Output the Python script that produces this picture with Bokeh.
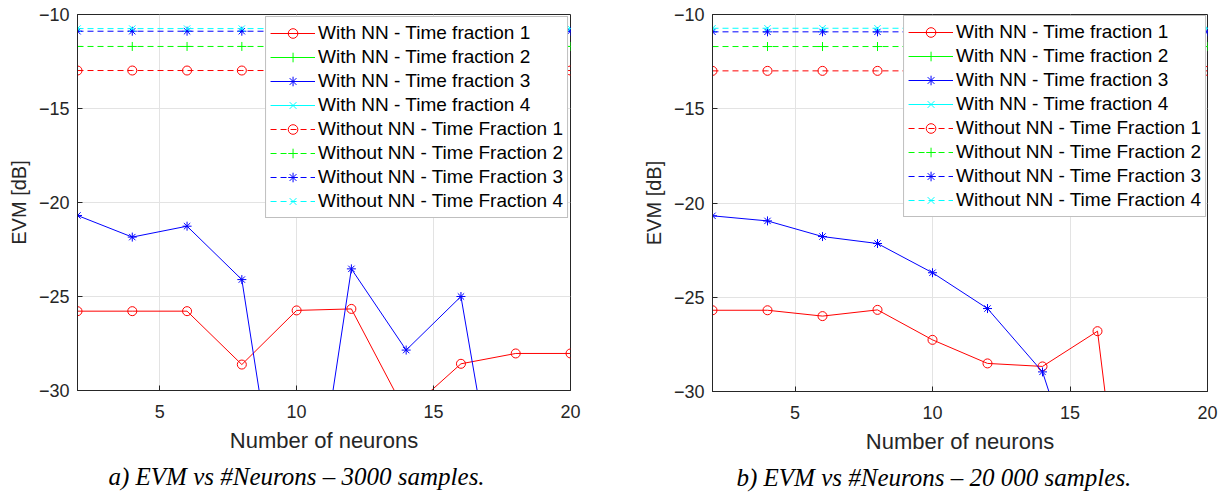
import numpy as np
from bokeh.plotting import figure
from bokeh.models import Range1d, FixedTicker, Title, Legend, LegendItem
from bokeh.layouts import row
from bokeh.embed import file_html
from bokeh.resources import INLINE

NaN = np.nan

# ---------------- data ----------------
neurons = [2, 4, 6, 8, 10, 12, 14, 16, 18, 20]
x_ticks = [5, 10, 15, 20]
y_ticks = [-30, -25, -20, -15, -10]

# panel a) 3000 samples
a_with_tf1 = [-25.78, -25.78, -25.78, -28.62, -25.74, -25.66, -31.2, -28.58, -28.03, -28.03]
a_with_tf2 = [NaN, NaN, NaN, NaN, NaN, NaN, NaN, NaN, NaN, NaN]
a_with_tf3 = [-20.69, -21.84, -21.26, -24.10, -42.8, -23.53, -27.85, -25.0, -41.9, -40.0]
a_with_tf4 = [NaN, NaN, NaN, NaN, NaN, NaN, NaN, NaN, NaN, NaN]
a_without_tf1 = [-12.98, -12.98, -12.98, -12.98, -12.98, -12.98, -12.98, -12.98, -12.98, -12.98]
a_without_tf2 = [-11.70, -11.70, -11.70, -11.70, -11.70, -11.70, -11.70, -11.70, -11.70, -11.70]
a_without_tf3 = [-10.89, -10.89, -10.89, -10.89, -10.89, -10.89, -10.89, -10.89, -10.89, -10.89]
a_without_tf4 = [-10.75, -10.75, -10.75, -10.75, -10.75, -10.75, -10.75, -10.75, -10.75, -10.75]

# panel b) 20 000 samples
b_with_tf1 = [-25.69, -25.69, -26.0, -25.67, -27.26, -28.51, -28.67, -26.8, -50.5, -45.0]
b_with_tf2 = [NaN, NaN, NaN, NaN, NaN, NaN, NaN, NaN, NaN, NaN]
b_with_tf3 = [-20.68, -20.95, -21.78, -22.15, -23.7, -25.6, -28.96, -37.9, -40.0, -42.0]
b_with_tf4 = [NaN, NaN, NaN, NaN, NaN, NaN, NaN, NaN, NaN, NaN]
b_without_tf1 = [-12.99, -12.99, -12.99, -12.99, -12.99, -12.99, -12.99, -12.99, -12.99, -12.99]
b_without_tf2 = [-11.70, -11.70, -11.70, -11.70, -11.70, -11.70, -11.70, -11.70, -11.70, -11.70]
b_without_tf3 = [-10.92, -10.92, -10.92, -10.92, -10.92, -10.92, -10.92, -10.92, -10.92, -10.92]
b_without_tf4 = [-10.73, -10.73, -10.73, -10.73, -10.73, -10.73, -10.73, -10.73, -10.73, -10.73]

labels = [
    "With NN - Time fraction 1", "With NN - Time fraction 2",
    "With NN - Time fraction 3", "With NN - Time fraction 4",
    "Without NN - Time Fraction 1", "Without NN - Time Fraction 2",
    "Without NN - Time Fraction 3", "Without NN - Time Fraction 4",
]
colors = ["#ff0000", "#00ff00", "#0000ff", "#00ffff"]
markers = ["circle", "cross", "asterisk", "x"]

AX = "#262626"
FONT = "Liberation Sans"


def make_panel(series, caption, frame_left, frame_right_border, frame_w, frame_h,
               top, caption_offset, legend_margin):
    p = figure(frame_width=frame_w, frame_height=frame_h,
               min_border_left=frame_left, min_border_right=frame_right_border,
               min_border_top=top, min_border_bottom=108,
               x_range=Range1d(2, 20), y_range=Range1d(-30, -10),
               output_backend="svg", toolbar_location=None,
               background_fill_color="white", border_fill_color="white")
    p.outline_line_color = AX
    p.outline_line_width = 1

    for ax in (p.xaxis[0], p.yaxis[0]):
        ax.axis_line_color = AX
        ax.major_tick_line_color = AX
        ax.major_tick_in = 5
        ax.major_tick_out = 0
        ax.minor_tick_line_color = None
        ax.major_label_text_font = FONT
        ax.major_label_text_font_size = "18px"
        ax.major_label_text_color = AX
        ax.axis_label_text_font = FONT
        ax.axis_label_text_font_style = "normal"
        ax.axis_label_text_color = AX
    p.xaxis[0].ticker = FixedTicker(ticks=x_ticks)
    p.yaxis[0].ticker = FixedTicker(ticks=y_ticks)
    p.xaxis[0].axis_label = "Number of neurons"
    p.xaxis[0].axis_label_text_font_size = "22px"
    p.xaxis[0].major_label_standoff = 14
    p.xaxis[0].axis_label_standoff = 7
    p.yaxis[0].axis_label = "EVM [dB]"
    p.yaxis[0].axis_label_text_font_size = "20px"
    p.yaxis[0].major_label_standoff = 8
    p.yaxis[0].axis_label_standoff = 6

    p.xgrid.ticker = FixedTicker(ticks=x_ticks)
    p.ygrid.ticker = FixedTicker(ticks=y_ticks)
    p.grid.grid_line_color = "#e3e3e3"
    p.grid.grid_line_width = 1

    items = []
    for i, ys in enumerate(series):
        c = colors[i % 4]
        m = markers[i % 4]
        dash = "solid" if i < 4 else "6 4"
        ln = p.line(neurons, ys, line_color=c, line_width=1, line_dash=dash)
        sc = p.scatter(neurons, ys, marker=m, size=9, line_color=c,
                       fill_color=None, line_width=1)
        items.append(LegendItem(label=labels[i], renderers=[ln, sc]))

    leg = Legend(items=items, location="top_right", margin=legend_margin,
                 padding=4, spacing=0, glyph_width=45, glyph_height=24,
                 label_height=24, label_standoff=3,
                 label_text_font=FONT, label_text_font_size="19px",
                 label_text_color="black",
                 border_line_color="#7f7f7f", border_line_width=1,
                 background_fill_color="white", background_fill_alpha=1.0)
    p.add_layout(leg)

    t = Title(text=caption, align="left", offset=caption_offset,
              text_font="Liberation Serif", text_font_style="italic",
              text_font_size="25px", text_color="black", standoff=10)
    p.add_layout(t, "below")
    return p


pa = make_panel([a_with_tf1, a_with_tf2, a_with_tf3, a_with_tf4,
                 a_without_tf1, a_without_tf2, a_without_tf3, a_without_tf4],
                "a) EVM vs #Neurons \u2013 3000 samples.",
                frame_left=77, frame_right_border=43, frame_w=493, frame_h=376,
                top=14, caption_offset=31, legend_margin=2)
pb = make_panel([b_with_tf1, b_with_tf2, b_with_tf3, b_with_tf4,
                 b_without_tf1, b_without_tf2, b_without_tf3, b_without_tf4],
                "b) EVM vs #Neurons \u2013 20 000 samples.",
                frame_left=99, frame_right_border=20, frame_w=495, frame_h=377,
                top=12, caption_offset=24, legend_margin=1)

layout = row(pa, pb)
open("out.html", "w").write(file_html(layout, INLINE))
